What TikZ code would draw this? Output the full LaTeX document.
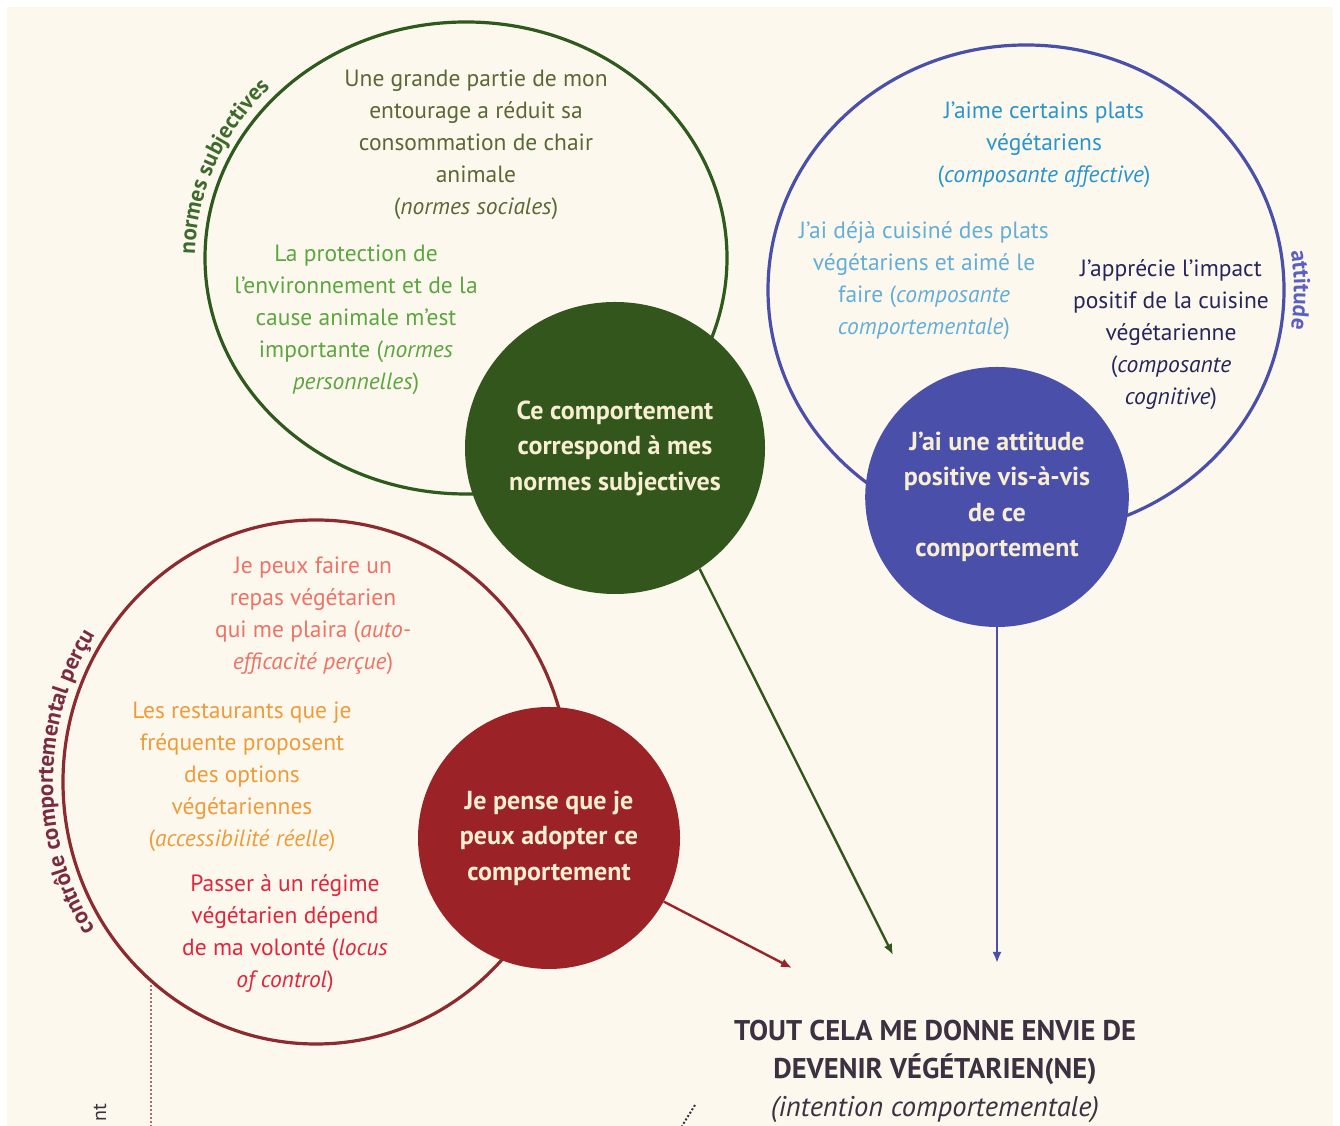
\documentclass[tikz,border=0pt]{standalone}
\usepackage{fontspec}
\setmainfont{PT Sans}
\usepackage{tikz}
\usetikzlibrary{shapes,arrows.meta,positioning,decorations.text}

\definecolor{cream}{HTML}{FCF8EE}
\definecolor{sngreen}{HTML}{33561C}
\definecolor{snring}{HTML}{2F5A1E}
\definecolor{socfont}{HTML}{5A6834}
\definecolor{persfont}{HTML}{5CA640}
\definecolor{snlab}{HTML}{3E6B2C}
\definecolor{atblue}{HTML}{4A4FAA}
\definecolor{afffont}{HTML}{2A94CC}
\definecolor{compfont}{HTML}{64AED6}
\definecolor{cogfont}{HTML}{26265A}
\definecolor{atlab}{HTML}{5A5FC0}
\definecolor{pcred}{HTML}{9B2226}
\definecolor{pcring}{HTML}{8C2A2E}
\definecolor{autofont}{HTML}{F07264}
\definecolor{accfont}{HTML}{EE9C3A}
\definecolor{locfont}{HTML}{E4243A}
\definecolor{pclab}{HTML}{7B2B3E}
\definecolor{diskfont}{HTML}{F8EFD2}
\definecolor{intentfont}{HTML}{3B3140}

\newcommand{\labelfont}{\fontsize{23}{24}\selectfont\bfseries}

\begin{document}
\begin{tikzpicture}[
  x=1pt, y=1pt,
  ring/.style={
    ellipse,
    draw,
    line width=3.2pt,
    inner sep=0pt
  },
  disk/.style={
    ellipse,
    inner sep=0pt,
    text=diskfont,
    font=\fontsize{26}{35.5}\selectfont\bfseries,
    align=center
  },
  note/.style={
    align=center,
    font=\fontsize{23.5}{32}\selectfont
  },
  line/.style={
    line width=2.4pt,
    -{Latex[length=11pt,width=9pt]}
  },
  dots/.style={
    dotted,
    line width=2pt
  }
]

% Background
\fill[white] (0,0) rectangle (1340,1126);
\useasboundingbox (0,0) rectangle (1340,1126);
\fill[cream] (7,0) rectangle (1333,1119);

% Rings
\node[ring, draw=snring, minimum width=522, minimum height=472] (snr) at (466,868) {};
\node[ring, draw=atblue, minimum width=516, minimum height=490] (atr) at (1026,836) {};
\node[ring, draw=pcring, minimum width=506, minimum height=524] (pcr) at (316,344) {};

% Ring labels
\path[decorate, decoration={text along path, text align=center,
  text={|\labelfont\color{snlab}|normes subjectives}}]
  ([shift={(192:271pt and 246pt)}]466,868) arc[start angle=192, end angle=124, x radius=271pt, y radius=246pt];
\path[decorate, decoration={text along path, text align=center,
  text={|\labelfont\color{atlab}|attitude}}]
  ([shift={(20:268pt and 255pt)}]1026,836) arc[start angle=20, end angle=-20, x radius=268pt, y radius=255pt];
\path[decorate, decoration={text along path, text align=center,
  text={|\labelfont\color{pclab}|contrôle comportemental perçu}}]
  ([shift={(224:263pt and 272pt)}]316,344) arc[start angle=224, end angle=136, x radius=263pt, y radius=272pt];

% Subjective norms
\node[note, text=socfont] (soc) at (476,981) {Une grande partie de mon\\entourage a réduit sa\\consommation de chair\\animale\\(\textit{normes sociales})};
\node[note, text=persfont] (pers) at (356,806) {La protection de\\l'environnement et de la\\cause animale m'est\\importante (\textit{normes}\\\textit{personnelles})};
\node[disk, fill=sngreen, minimum width=300, minimum height=292] (sn) at (615,678) {Ce comportement\\correspond à mes\\normes subjectives};

% Attitude
\node[note, text=afffont] (aff) at (1044,981) {J'aime certains plats\\végétariens\\(\textit{composante affective})};
\node[note, text=compfont] (comp) at (924,845) {J'ai déjà cuisiné des plats\\végétariens et aimé le\\faire (\textit{composante}\\\textit{comportementale})};
\node[note, text=cogfont] (cog) at (1171,791) {J'apprécie l'impact\\positif de la cuisine\\végétarienne\\(\textit{composante}\\\textit{cognitive})};
\node[disk, fill=atblue, minimum width=262, minimum height=260] (at) at (997,629) {J'ai une attitude\\positive vis-à-vis\\de ce\\comportement};

% Perceived control
\node[note, text=autofont] (auto) at (313,510) {Je peux faire un\\repas végétarien\\qui me plaira (\textit{auto-}\\\textit{efficacité perçue})};
\node[note, text=accfont] (acc) at (242,349) {Les restaurants que je\\fréquente proposent\\des options\\végétariennes\\(\textit{accessibilité réelle})};
\node[note, text=locfont] (loc) at (285,192) {Passer à un régime\\végétarien dépend\\de ma volonté (\textit{locus}\\\textit{of control})};
\node[disk, fill=pcred, minimum width=262, minimum height=262] (pc) at (549,288) {Je pense que je\\peux adopter ce\\comportement};

% Intention
\node[align=center, text=intentfont, font=\fontsize{28.5}{38}\selectfont\bfseries] (intent) at (935,55) {TOUT CELA ME DONNE ENVIE DE\\DEVENIR VÉGÉTARIEN(NE)\\{\mdseries\itshape (intention comportementale)}};

% Arrow ends
\coordinate (endG) at (893,171);
\coordinate (endB) at (997,163);
\coordinate (endR) at (792,158);
\draw[line, draw=sngreen] (sn.-55) -- (endG);
\draw[line, draw=atblue] (at.south) -- (endB);
\draw[line, draw=pcred] (pc.-29) -- (endR);

% Cut-off parts
\coordinate (dotA) at (151,141);
\coordinate (dotB) at (151,0);
\draw[dots, draw=pcring!70] (dotA) -- (dotB);
\coordinate (dotC) at (695,21);
\coordinate (dotD) at (682,0);
\draw[dots, draw=intentfont] (dotC) -- (dotD);
\node[rotate=90, text=intentfont, font=\fontsize{20}{24}\selectfont] (nt) at (100,13) {nt};

\end{tikzpicture}
\end{document}
